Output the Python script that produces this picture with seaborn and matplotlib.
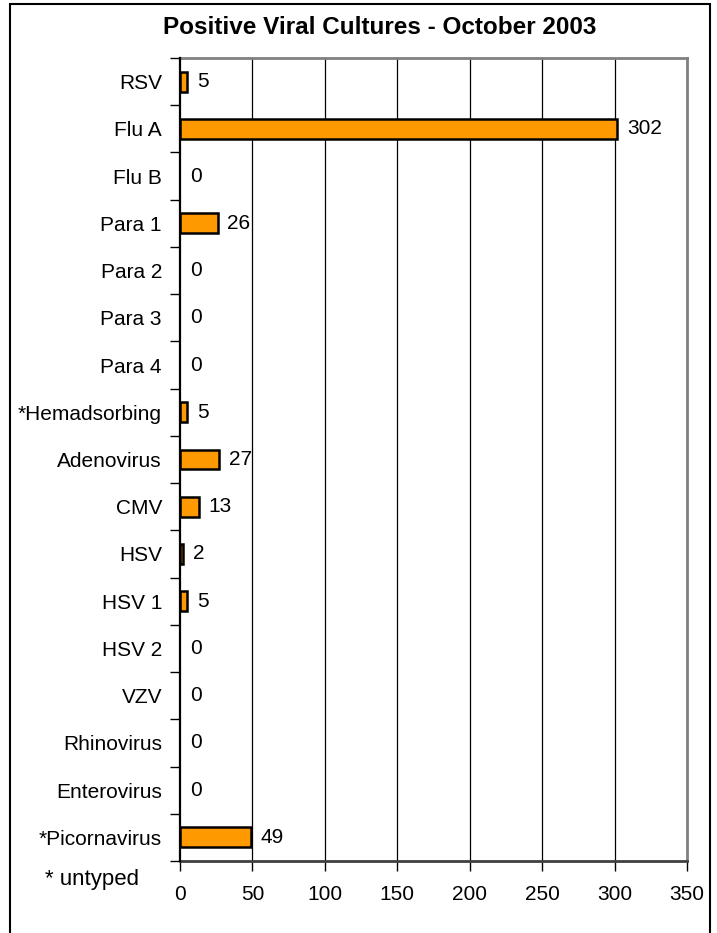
import matplotlib
matplotlib.use("Agg")
import matplotlib.pyplot as plt
from matplotlib.patches import Rectangle
import seaborn as sns
import pandas as pd

# values
viruses = ["RSV", "Flu A", "Flu B", "Para 1", "Para 2", "Para 3", "Para 4",
           "*Hemadsorbing", "Adenovirus", "CMV", "HSV", "HSV 1", "HSV 2",
           "VZV", "Rhinovirus", "Enterovirus", "*Picornavirus"]
counts = [5, 302, 0, 26, 0, 0, 0, 5, 27, 13, 2, 5, 0, 0, 0, 0, 49]
x_ticks = [0, 50, 100, 150, 200, 250, 300, 350]

df = pd.DataFrame({"virus": viruses, "count": counts})

sns.set_style("white")
plt.rcParams["font.family"] = ["Liberation Sans", "DejaVu Sans"]
plt.rcParams["text.color"] = "black"
plt.rcParams["xtick.color"] = "black"
plt.rcParams["ytick.color"] = "black"

fig = plt.figure(figsize=(7.17, 9.33), dpi=100)
ax = fig.add_axes([180 / 717, 1 - 861 / 933, 507 / 717, 803 / 933])

sns.barplot(data=df, x="count", y="virus", orient="h", color="#FF9900",
            edgecolor="black", linewidth=1.8, width=0.42, saturation=1, ax=ax)

# zero-width bars should not leave an outline next to the axis
for patch in ax.containers[0]:
    if patch.get_width() == 0:
        patch.set_linewidth(0)

ax.bar_label(ax.containers[0], padding=7, fontsize=15, color="black")

ax.set_xlim(0, 350)
ax.set_xticks(x_ticks)
ax.set_ylim(len(viruses) - 0.5, -0.5)

# vertical gridlines between the end ticks
for v in x_ticks[1:-1]:
    ax.axvline(v, color="black", linewidth=0.9, zorder=0)

ax.set_xlabel("")
ax.set_ylabel("")

# category labels on major ticks, boundary ticks on minor ticks
ax.set_yticks(range(len(viruses)))
ax.set_yticklabels(viruses)
ax.set_yticks([i - 0.5 for i in range(len(viruses) + 1)], minor=True)
ax.tick_params(axis="y", which="major", length=0, pad=13, labelsize=15,
               labelcolor="black")
ax.tick_params(axis="y", which="minor", length=7, width=1, color="black",
               direction="out", left=True)
ax.tick_params(axis="x", which="major", length=7, width=1, color="black",
               direction="out", bottom=True, pad=10, labelsize=15,
               labelcolor="black")

for side in ["top", "right"]:
    ax.spines[side].set_visible(True)
    ax.spines[side].set_color("#808080")
    ax.spines[side].set_linewidth(2)
ax.spines["left"].set_visible(True)
ax.spines["left"].set_color("black")
ax.spines["left"].set_linewidth(1.6)
ax.spines["left"].set_zorder(5)
ax.spines["bottom"].set_color("#404040")
ax.spines["bottom"].set_linewidth(2)

fig.text(380 / 717, 1 - 28 / 933, "Positive Viral Cultures - October 2003",
         ha="center", va="center", fontsize=17.5, fontweight="bold",
         color="black")
fig.text(92 / 717, 1 - 880 / 933, "* untyped", ha="center", va="center",
         fontsize=16, color="black")

# outer chart border (open at the bottom)
fig.patches.append(Rectangle((10 / 717, -0.1), 700 / 717, 1.1 - 4 / 933,
                             transform=fig.transFigure, fill=False,
                             edgecolor="black", linewidth=1.5))

fig.savefig("out.png", dpi=100)
